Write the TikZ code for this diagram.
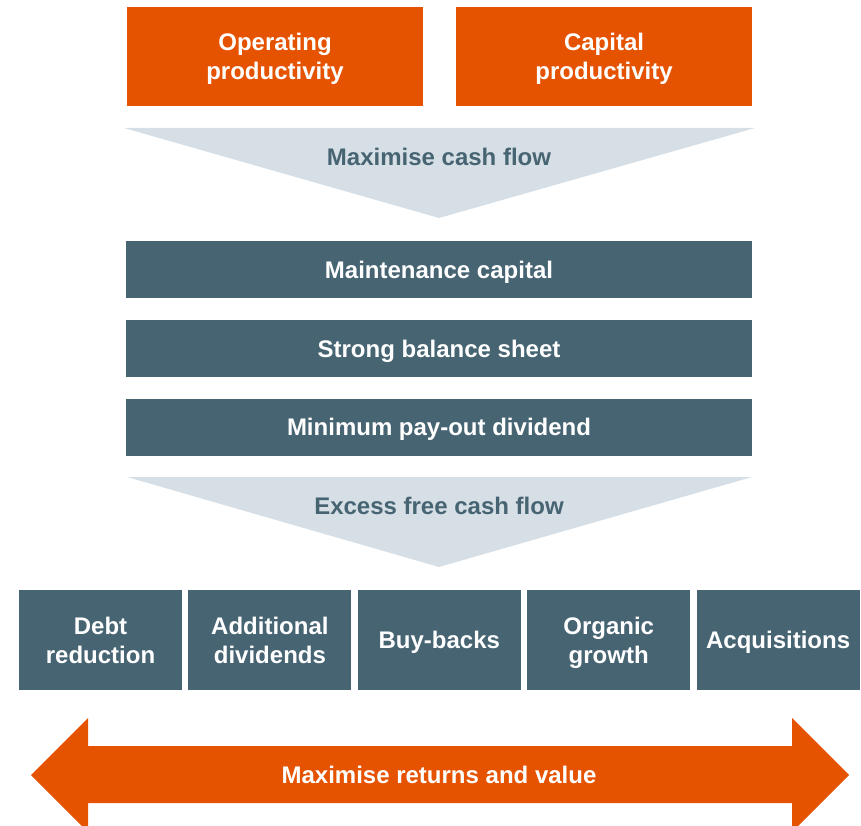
\documentclass[tikz,border=0pt]{standalone}
\usepackage{fontspec}
\setmainfont{Liberation Sans}
\usetikzlibrary{positioning}
\usepackage{xcolor}

\definecolor{cforange}{RGB}{230,83,0}
\definecolor{cfslate}{RGB}{71,100,115}
\definecolor{cfpale}{RGB}{214,223,230}

\tikzset{
  cftext/.style={font=\bfseries\fontsize{24}{29}\selectfont, align=center, inner sep=0pt, text depth=0pt},
  driverbox/.style={cftext, fill=cforange, text=white, minimum width=296pt, minimum height=99pt},
  claimbar/.style={cftext, fill=cfslate, text=white, minimum width=626pt, minimum height=57pt},
  usebox/.style={cftext, fill=cfslate, text=white, minimum width=163pt, minimum height=100pt},
  chevlabel/.style={cftext, text=cfslate},
}

\begin{document}
\begin{tikzpicture}[x=1pt,y=-1pt]

\useasboundingbox (0,0) rectangle (861,826);

% drivers
\node[driverbox] (opprod) at (275,56.5) {Operating\\productivity};
\node[driverbox] (capprod) at (604,56.5) {Capital\\productivity};

% first funnel
\fill[cfpale] (124,128) -- (755,128) -- (439,218) -- cycle;
\node[chevlabel] (cashflow) at (439,157) {Maximise cash flow};

% priorities
\node[claimbar] (maint) at (439,269.5) {Maintenance capital};
\node[claimbar, below=22pt of maint] (balance) {Strong balance sheet};
\node[claimbar, below=21pt of balance] (divmin) {Minimum pay-out dividend};

% second funnel
\fill[cfpale] (127,477) -- (752,477) -- (439,567) -- cycle;
\node[chevlabel] (excess) at (439,506) {Excess free cash flow};

% uses of excess cash
\node[usebox] (debt) at (100.5,640) {Debt\\reduction};
\node[usebox, right=6pt of debt] (adddiv) {Additional\\dividends};
\node[usebox, right=6pt of adddiv] (buyback) {Buy-backs};
\node[usebox, right=6pt of buyback] (organic) {Organic\\growth};
\node[usebox, right=6pt of organic] (acquis) {Acquisitions};

% double arrow
\fill[cforange] (31,775) -- (88,718) -- (88,746) -- (792,746) -- (792,718) -- (849,775)
  -- (792,832) -- (792,803) -- (88,803) -- (88,832) -- cycle;
\node[cftext, text=white] (returns) at (439,775) {Maximise returns and value};

\end{tikzpicture}
\end{document}
